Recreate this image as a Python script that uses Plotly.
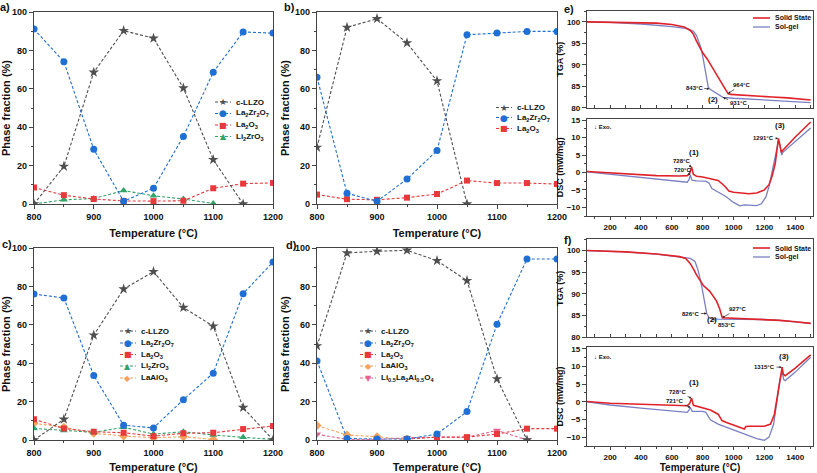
import plotly.graph_objects as go

W, H = 817, 473
FONT = "Liberation Sans, Arial, sans-serif"

# ---------------- data: phase fractions ----------------
temps = [800, 850, 900, 950, 1000, 1050, 1100, 1150, 1200]

a_cllzo = [0, 19.6, 68.6, 90.3, 86.3, 60.4, 23.1, 0, None]
a_la2zr2o7 = [91.1, 74.1, 28.5, 1.4, 8.2, 35.2, 68.6, 89.6, 89.0]
a_la2o3 = [8.6, 4.6, 2.6, 1.6, 1.5, 1.7, 8.2, 10.6, 11.0]
a_li2zro3 = [0, 2.2, 2.8, 7.0, 4.3, 2.6, 0.3, None, None]

b_cllzo = [29.5, 92.0, 96.5, 83.9, 64.1, 0, None, None, None]
b_la2zr2o7 = [66.0, 5.6, 1.4, 13.0, 27.8, 88.2, 89.0, 89.9, 89.9]
b_la2o3 = [4.9, 2.5, 2.2, 3.3, 5.2, 12.2, 10.9, 10.9, 10.4]

c_cllzo = [0, 10.8, 54.6, 78.6, 87.7, 69.0, 59.3, 16.9, 0]
c_la2zr2o7 = [76.0, 74.0, 33.6, 7.7, 6.3, 21.0, 34.8, 76.2, 92.7]
c_la2o3 = [10.8, 6.0, 4.3, 3.8, 2.0, 3.5, 3.8, 5.7, 7.3]
c_li2zro3 = [6.0, 4.9, 4.0, 6.6, 3.1, 4.3, 2.6, 1.4, 0.3]
c_laalo3 = [8.7, 6.6, 3.5, 2.1, 1.2, 1.7, 0.3, None, None]

d_cllzo = [49.0, 97.4, 98.3, 98.8, 93.4, 83.0, 31.8, 0, None]
d_la2zr2o7 = [41.2, 0.8, 0.5, 0.5, 3.1, 14.8, 60.3, 94.3, 94.3]
d_la2o3 = [None, None, None, 0.5, 1.5, 1.5, 3.1, 5.9, 5.9]
d_laalo3 = [7.5, 2.6, 1.7, 0.3, None, None, None, None, None]
d_li05 = [3.0, 0.3, 0.2, 1.2, 1.4, 1.4, 5.0, 0.0, None]

# ---------------- data: TGA / DSC ----------------
e_tga_ss_T = [50, 300, 500, 600, 680, 720, 740, 760, 780, 800, 830, 860, 900, 932, 964, 980, 1050, 1150, 1250, 1350, 1450, 1500]
e_tga_ss = [100, 99.9, 99.7, 99.4, 98.8, 98.0, 97.1, 95.5, 94.0, 92.8, 91.3, 89.5, 87.2, 85.5, 83.3, 83.1, 82.9, 82.7, 82.5, 82.3, 82.0, 81.8]
e_tga_sg_T = [50, 200, 400, 500, 600, 700, 740, 760, 775, 790, 805, 820, 835, 843, 870, 900, 931, 1000, 1100, 1200, 1300, 1400, 1500]
e_tga_sg = [100, 99.9, 99.5, 99.2, 98.9, 98.4, 97.8, 96.8, 95.3, 93.8, 91.0, 88.0, 85.0, 84.4, 83.8, 83.0, 82.4, 82.2, 82.0, 81.8, 81.6, 81.4, 81.2]

e_dsc_ss_T = [50, 150, 300, 500, 650, 700, 715, 728, 740, 760, 800, 850, 900, 940, 970, 1000, 1050, 1100, 1150, 1200, 1230, 1250, 1270, 1285, 1291, 1300, 1310, 1320, 1400, 1500]
e_dsc_ss = [0.3, 0.0, -0.5, -0.9, -1.0, -0.9, -0.3, 1.6, -0.6, -1.1, -1.3, -1.7, -2.3, -3.8, -5.3, -5.7, -6.0, -6.1, -5.9, -5.0, -3.5, -1.0, 2.5, 7.5, 9.8, 8.0, 5.8, 6.4, 10.2, 14.5]
e_dsc_sg_T = [50, 200, 400, 600, 700, 712, 720, 730, 760, 820, 840, 860, 900, 950, 1000, 1040, 1070, 1100, 1150, 1180, 1210, 1230, 1250, 1270, 1290, 1300, 1312, 1320, 1400, 1500]
e_dsc_sg = [0.2, -0.5, -1.4, -2.3, -2.8, -2.0, -0.7, -2.2, -2.4, -2.5, -3.0, -4.6, -5.7, -6.9, -8.6, -9.6, -9.3, -9.4, -9.5, -9.0, -7.0, -4.0, 0.5, 5.0, 8.8, 7.9, 5.0, 5.8, 9.0, 12.8]

f_tga_ss_T = [50, 300, 500, 650, 690, 717, 740, 760, 803, 846, 889, 910, 927, 1000, 1100, 1200, 1300, 1400, 1500]
f_tga_ss = [100, 99.7, 99.2, 98.6, 98.2, 97.1, 95.8, 94.4, 92.0, 90.6, 88.4, 86.6, 84.5, 84.4, 84.3, 84.1, 83.9, 83.6, 83.2]
f_tga_sg_T = [50, 300, 500, 650, 720, 750, 770, 790, 810, 826, 840, 853, 900, 1000, 1100, 1200, 1300, 1400, 1500]
f_tga_sg = [100, 99.7, 99.2, 98.6, 98.2, 97.5, 95.5, 92.5, 89.0, 85.5, 84.6, 84.3, 84.2, 84.2, 84.2, 84.1, 83.9, 83.6, 83.2]

f_dsc_ss_T = [50, 200, 400, 600, 700, 715, 728, 740, 800, 850, 900, 925, 950, 1000, 1050, 1070, 1080, 1100, 1200, 1240, 1265, 1285, 1300, 1315, 1322, 1335, 1400, 1500]
f_dsc_ss = [0.1, -0.4, -0.7, -1.0, -1.1, -0.5, 1.0, -1.0, -1.6, -2.3, -3.5, -5.3, -5.8, -6.6, -7.4, -7.7, -7.0, -6.9, -6.9, -6.3, -3.5, 2.0, 7.0, 9.8, 7.8, 7.4, 9.5, 13.3]
f_dsc_sg_T = [50, 200, 400, 600, 700, 712, 721, 732, 800, 820, 850, 900, 1000, 1100, 1150, 1200, 1230, 1260, 1280, 1300, 1315, 1325, 1335, 1400, 1500]
f_dsc_sg = [0.0, -0.9, -1.8, -2.5, -3.0, -2.3, -1.6, -2.7, -2.7, -3.0, -5.1, -6.3, -8.0, -9.5, -10.4, -10.9, -10.0, -6.3, -0.7, 5.9, 8.7, 6.3, 6.0, 8.4, 12.6]

# ---------------- styling ----------------
C_GRAY, C_BLUE, C_RED, C_GREEN, C_ORANGE, C_PINK = "#4f4f4f", "#1f6fd4", "#e8393c", "#33a36a", "#f4a25c", "#e6628c"
C_SS, C_SG = "#e0232b", "#7b80c2"

def px(x):
    return x / W

def py(y):
    return 1 - y / H

fig = go.Figure()

def phase(n, yvals, color, symbol, size):
    fig.add_trace(go.Scatter(
        x=temps, y=yvals, mode="lines+markers", xaxis=f"x{n}", yaxis=f"y{n}",
        line=dict(color=color, width=1.1, dash="3px,2px"),
        marker=dict(symbol=symbol, size=size, color=color, line=dict(width=0)),
        showlegend=False, hoverinfo="skip"))

def curve(n, T, v, color, width):
    fig.add_trace(go.Scatter(
        x=T, y=v, mode="lines", xaxis=f"x{n}", yaxis=f"y{n}",
        line=dict(color=color, width=width), showlegend=False, hoverinfo="skip"))

# panel a
phase(1, a_li2zro3, C_GREEN, "triangle-up", 7)
phase(1, a_la2o3, C_RED, "square", 6)
phase(1, a_la2zr2o7, C_BLUE, "circle", 7)
phase(1, a_cllzo, C_GRAY, "star", 8)
# panel b
phase(2, b_la2o3, C_RED, "square", 6)
phase(2, b_la2zr2o7, C_BLUE, "circle", 7)
phase(2, b_cllzo, C_GRAY, "star", 8)
# panel c
phase(3, c_laalo3, C_ORANGE, "diamond", 7)
phase(3, c_li2zro3, C_GREEN, "triangle-up", 7)
phase(3, c_la2o3, C_RED, "square", 6)
phase(3, c_la2zr2o7, C_BLUE, "circle", 7)
phase(3, c_cllzo, C_GRAY, "star", 8)
# panel d
phase(4, d_laalo3, C_ORANGE, "diamond", 7)
phase(4, d_li05, C_PINK, "triangle-down", 7)
phase(4, d_la2o3, C_RED, "square", 6)
phase(4, d_la2zr2o7, C_BLUE, "circle", 7)
phase(4, d_cllzo, C_GRAY, "star", 8)
# panel e
curve(5, e_tga_sg_T, e_tga_sg, C_SG, 1.3)
curve(5, e_tga_ss_T, e_tga_ss, C_SS, 1.6)
curve(6, e_dsc_sg_T, e_dsc_sg, C_SG, 1.3)
curve(6, e_dsc_ss_T, e_dsc_ss, C_SS, 1.6)
# panel f
curve(7, f_tga_sg_T, f_tga_sg, C_SG, 1.3)
curve(7, f_tga_ss_T, f_tga_ss, C_SS, 1.6)
curve(8, f_dsc_sg_T, f_dsc_sg, C_SG, 1.3)
curve(8, f_dsc_ss_T, f_dsc_ss, C_SS, 1.6)

def axis(dom, anchor, **kw):
    d = dict(domain=dom, anchor=anchor, showline=True, linecolor="#444", linewidth=1.3,
             mirror=True, showgrid=False, zeroline=False, ticks="outside", ticklen=4,
             tickwidth=1, tickcolor="#444", automargin=False,
             tickfont=dict(family=FONT, size=9, color="#111", weight="bold"))
    d.update(kw)
    return d

def ttl(text, size=10, standoff=4):
    return dict(text=text, font=dict(family=FONT, size=size, color="#111", weight="bold"), standoff=standoff)

XA = [px(34), px(273)]
XB = [px(317), px(557)]
YTOP = [py(204), py(12)]
YBOT = [py(440), py(248)]
XE = [px(587), px(813)]

layout = {}
phase_x = dict(range=[800, 1200], dtick=100, minor=dict(dtick=50, ticklen=2, ticks="outside", tickcolor="#444"))
phase_y = dict(range=[0, 100], dtick=20, minor=dict(dtick=10, ticklen=2, ticks="outside", tickcolor="#444"))
for n, xd, yd in [(1, XA, YTOP), (2, XB, YTOP), (3, XA, YBOT), (4, XB, YBOT)]:
    layout[f"xaxis{n}"] = axis(xd, f"y{n}", title=ttl("Temperature (°C)", 11, 8), **phase_x)
    layout[f"yaxis{n}"] = axis(yd, f"x{n}", title=ttl("Phase fraction (%)", 11, 3), **phase_y)

small_tf = dict(family=FONT, size=8, color="#111", weight="bold")
tga_y = dict(range=[80, 102.6], tickvals=[80, 85, 90, 95, 100],
             minor=dict(dtick=2.5, tick0=80, ticklen=2, ticks="outside", tickcolor="#444"), tickfont=small_tf)
dsc_y = dict(range=[-12.5, 15.5], tickvals=[-10, -5, 0, 5, 10, 15],
             minor=dict(dtick=2.5, tick0=-10, ticklen=2, ticks="outside", tickcolor="#444"), tickfont=small_tf)
tga_x = dict(range=[50, 1515], dtick=100, tick0=0, showticklabels=False, ticks="inside", ticklen=3)
dsc_x = dict(range=[50, 1515], dtick=200, tick0=0, tickfont=small_tf, ticklen=3,
             minor=dict(dtick=100, tick0=0, ticklen=2, ticks="outside", tickcolor="#444"))

layout["xaxis5"] = axis(XE, "y5", **tga_x)
layout["yaxis5"] = axis([py(107.7), py(10.7)], "x5", title=ttl("TGA (%)", 9, 1), **tga_y)
layout["xaxis6"] = axis(XE, "y6", **dsc_x)
layout["yaxis6"] = axis([py(216), py(118.5)], "x6", title=ttl("DSC (mW/mg)", 9, 1), **dsc_y)
layout["xaxis7"] = axis(XE, "y7", **tga_x)
layout["yaxis7"] = axis([py(337.3), py(239.3)], "x7", title=ttl("TGA (%)", 9, 1), **tga_y)
layout["xaxis8"] = axis(XE, "y8", title=ttl("Temperature (°C)", 10, 3), **dsc_x)
layout["yaxis8"] = axis([py(446), py(347)], "x8", title=ttl("DSC (mW/mg)", 9, 1), **dsc_y)

fig.update_layout(
    width=W, height=H, margin=dict(l=0, r=0, t=0, b=0),
    template="none", paper_bgcolor="white", plot_bgcolor="white",
    font=dict(family=FONT, color="#111"), showlegend=False, **layout)

# ---------------- panel labels ----------------
for lab, x, y in [("a)", 5, 7), ("b)", 289, 7), ("c)", 7, 244), ("d)", 291, 245), ("e)", 569, 9), ("f)", 568, 240)]:
    fig.add_annotation(xref="paper", yref="paper", x=px(x), y=py(y), text=lab, showarrow=False,
                       font=dict(family=FONT, size=11, weight="bold", color="#111"),
                       xanchor="center", yanchor="middle")

# ---------------- custom legends ----------------
LZO = "La<sub>2</sub>Zr<sub>2</sub>O<sub>7</sub>"
LAO = "La<sub>2</sub>O<sub>3</sub>"
LZR = "Li<sub>2</sub>ZrO<sub>3</sub>"
LAL = "LaAlO<sub>3</sub>"
LLA = "Li<sub>0.5</sub>La<sub>2</sub>Al<sub>0.5</sub>O<sub>4</sub>"
G_STAR = ("★", 9, C_GRAY)
G_CIRC = ("●", 9, C_BLUE)
G_SQ = ("■", 8, C_RED)
G_TRI = ("▲", 8, C_GREEN)
G_DIA = ("◆", 8, C_ORANGE)
G_TRD = ("▼", 8, C_PINK)

def legend_block(x0, ys, items):
    for y, (label, (g, gs, col)) in zip(ys, items):
        fig.add_shape(type="line", xref="paper", yref="paper", x0=px(x0), x1=px(x0 + 16),
                      y0=py(y), y1=py(y), line=dict(color=col, width=1.1, dash="3px,2px"))
        fig.add_annotation(xref="paper", yref="paper", x=px(x0 + 8), y=py(y), text=g, showarrow=False,
                           font=dict(family="DejaVu Sans", size=gs, color=col), xanchor="center", yanchor="middle")
        fig.add_annotation(xref="paper", yref="paper", x=px(x0 + 19), y=py(y), text=label, showarrow=False,
                           font=dict(family=FONT, size=8, weight="bold", color="#111"),
                           xanchor="left", yanchor="middle")

legend_block(215, [102, 113.5, 125, 136.5],
             [("c-LLZO", G_STAR), (LZO, G_CIRC), (LAO, G_SQ), (LZR, G_TRI)])
legend_block(496, [107.5, 117.5, 128.5],
             [("c-LLZO", G_STAR), (LZO, G_CIRC), (LAO, G_SQ)])
legend_block(120, [331, 343, 354.5, 366, 378],
             [("c-LLZO", G_STAR), (LZO, G_CIRC), (LAO, G_SQ), (LZR, G_TRI), (LAL, G_DIA)])
legend_block(360, [331, 343, 354.5, 366, 378],
             [("c-LLZO", G_STAR), (LZO, G_CIRC), (LAO, G_SQ), (LAL, G_DIA), (LLA, G_TRD)])

for y0 in (18, 248):
    for dy, col, lab, wdt in [(0, C_SS, "Solid State", 1.6), (9, C_SG, "Sol-gel", 1.3)]:
        fig.add_shape(type="line", xref="paper", yref="paper", x0=px(753), x1=px(770),
                      y0=py(y0 + dy), y1=py(y0 + dy), line=dict(color=col, width=wdt))
        fig.add_annotation(xref="paper", yref="paper", x=px(773), y=py(y0 + dy), text=lab, showarrow=False,
                           font=dict(family=FONT, size=7, weight="bold", color="#111"),
                           xanchor="left", yanchor="middle")

# ---------------- curve annotations ----------------
def note(n, x, y, text, size=6, head=None):
    kw = dict(xref=f"x{n}", yref=f"y{n}", text=text,
              font=dict(family=FONT, size=size, weight="bold", color="#111"))
    if head is None:
        fig.add_annotation(x=x, y=y, showarrow=False, **kw)
    else:
        fig.add_annotation(x=head[0], y=head[1], ax=x, ay=y, axref=f"x{n}", ayref=f"y{n}",
                           showarrow=True, arrowhead=2, arrowsize=0.7, arrowwidth=0.7,
                           arrowcolor="#222", standoff=0, **kw)

note(5, 745, 84.6, "843°C", head=(843, 84.4))
note(5, 1049, 85.3, "964°C", head=(964, 83.3))
note(5, 1029, 81.0, "931°C", head=(931, 82.4))
note(5, 865, 82.0, "(2)", size=8)
note(6, 665, 3.3, "728°C", head=(728, 1.6))
note(6, 672, 0.74, "720°C", head=(720, -0.7))
note(6, 743, 5.7, "(1)", size=8)
note(6, 1303, 13.6, "(3)", size=8)
note(6, 1195, 9.8, "1291°C", head=(1289, 9.8))
note(6, 152, 13.1, "↓ Exo.", size=6)

note(7, 723, 85.4, "826°C", head=(826, 85.5))
note(7, 862, 84.0, "(2)", size=8)
note(7, 953, 82.85, "853°C", head=(856, 84.3))
note(7, 1023, 86.5, "927°C", head=(927, 84.5))
note(8, 639, 2.8, "728°C", head=(728, 1.0))
note(8, 620, 0.26, "721°C", head=(721, -1.6))
note(8, 743, 5.4, "(1)", size=8)
note(8, 1329, 12.85, "(3)", size=8)
note(8, 1201, 9.8, "1315°C", head=(1313, 9.8))
note(8, 153, 12.6, "↓ Exo.", size=6)

fig.write_html("out.html", config={"displayModeBar": False},
               post_script="document.body.style.margin='0';document.body.style.overflow='hidden';")
